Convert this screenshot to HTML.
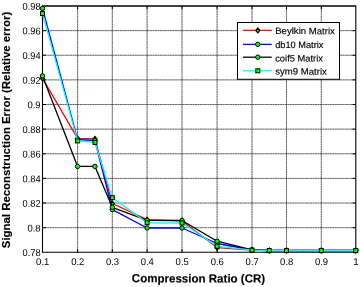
<!DOCTYPE html>
<html><head><meta charset="utf-8"><title>Plot</title><style>html,body{margin:0;padding:0;background:#fff}svg{display:block}</style></head><body>
<svg width="360" height="287" viewBox="0 0 360 287" font-family="Liberation Sans, sans-serif">
<rect width="360" height="287" fill="#fff"/>
<path d="M77.60 6.0V252.3M112.30 6.0V252.3M147.10 6.0V252.3M182.00 6.0V252.3M217.10 6.0V252.3M252.00 6.0V252.3M286.50 6.0V252.3M321.30 6.0V252.3M42.5 227.67H355.8M42.5 203.04H355.8M42.5 178.41H355.8M42.5 153.78H355.8M42.5 129.15H355.8M42.5 104.52H355.8M42.5 79.89H355.8M42.5 55.26H355.8M42.5 30.63H355.8" fill="none" stroke="#000" stroke-opacity="0.3" stroke-width="0.85"/>
<path d="M77.60 6.0V252.3M112.30 6.0V252.3M147.10 6.0V252.3M182.00 6.0V252.3M217.10 6.0V252.3M252.00 6.0V252.3M286.50 6.0V252.3M321.30 6.0V252.3M42.5 227.67H355.8M42.5 203.04H355.8M42.5 178.41H355.8M42.5 153.78H355.8M42.5 129.15H355.8M42.5 104.52H355.8M42.5 79.89H355.8M42.5 55.26H355.8M42.5 30.63H355.8" fill="none" stroke="#000" stroke-opacity="0.55" stroke-width="0.85" stroke-dasharray="1.9 0.6"/>
<path d="M42.5 6.0H355.8" fill="none" stroke="#000" stroke-width="1.4"/>
<path d="M42.5 5.4V252.8M355.8 5.4V252.8M42.5 252.3H355.8" fill="none" stroke="#000" stroke-width="1.1"/>
<path d="M77.60 252.3v-3.3M77.60 6.0v3.3M112.30 252.3v-3.3M112.30 6.0v3.3M147.10 252.3v-3.3M147.10 6.0v3.3M182.00 252.3v-3.3M182.00 6.0v3.3M217.10 252.3v-3.3M217.10 6.0v3.3M252.00 252.3v-3.3M252.00 6.0v3.3M286.50 252.3v-3.3M286.50 6.0v3.3M321.30 252.3v-3.3M321.30 6.0v3.3M42.5 227.67h3.3M355.8 227.67h-3.3M42.5 203.04h3.3M355.8 203.04h-3.3M42.5 178.41h3.3M355.8 178.41h-3.3M42.5 153.78h3.3M355.8 153.78h-3.3M42.5 129.15h3.3M355.8 129.15h-3.3M42.5 104.52h3.3M355.8 104.52h-3.3M42.5 79.89h3.3M355.8 79.89h-3.3M42.5 55.26h3.3M355.8 55.26h-3.3M42.5 30.63h3.3M355.8 30.63h-3.3" fill="none" stroke="#000" stroke-width="1"/>
<text transform="translate(42.70 265.1) rotate(0.05)" font-size="9.8" text-anchor="middle" textLength="13.2" lengthAdjust="spacingAndGlyphs" fill="#000">0.1</text>
<text transform="translate(77.80 265.1) rotate(0.05)" font-size="9.8" text-anchor="middle" textLength="13.2" lengthAdjust="spacingAndGlyphs" fill="#000">0.2</text>
<text transform="translate(112.50 265.1) rotate(0.05)" font-size="9.8" text-anchor="middle" textLength="13.2" lengthAdjust="spacingAndGlyphs" fill="#000">0.3</text>
<text transform="translate(147.30 265.1) rotate(0.05)" font-size="9.8" text-anchor="middle" textLength="13.2" lengthAdjust="spacingAndGlyphs" fill="#000">0.4</text>
<text transform="translate(182.20 265.1) rotate(0.05)" font-size="9.8" text-anchor="middle" textLength="13.2" lengthAdjust="spacingAndGlyphs" fill="#000">0.5</text>
<text transform="translate(217.30 265.1) rotate(0.05)" font-size="9.8" text-anchor="middle" textLength="13.2" lengthAdjust="spacingAndGlyphs" fill="#000">0.6</text>
<text transform="translate(252.20 265.1) rotate(0.05)" font-size="9.8" text-anchor="middle" textLength="13.2" lengthAdjust="spacingAndGlyphs" fill="#000">0.7</text>
<text transform="translate(286.70 265.1) rotate(0.05)" font-size="9.8" text-anchor="middle" textLength="13.2" lengthAdjust="spacingAndGlyphs" fill="#000">0.8</text>
<text transform="translate(321.50 265.1) rotate(0.05)" font-size="9.8" text-anchor="middle" textLength="13.2" lengthAdjust="spacingAndGlyphs" fill="#000">0.9</text>
<text transform="translate(356.00 265.1) rotate(0.05)" font-size="9.8" text-anchor="middle" fill="#000">1</text>
<text transform="translate(40.6 256.05) rotate(0.05)" font-size="9.8" text-anchor="end" textLength="18.0" lengthAdjust="spacingAndGlyphs" fill="#000">0.78</text>
<text transform="translate(40.6 231.42) rotate(0.05)" font-size="9.8" text-anchor="end" textLength="13.2" lengthAdjust="spacingAndGlyphs" fill="#000">0.8</text>
<text transform="translate(40.6 206.79) rotate(0.05)" font-size="9.8" text-anchor="end" textLength="18.0" lengthAdjust="spacingAndGlyphs" fill="#000">0.82</text>
<text transform="translate(40.6 182.16) rotate(0.05)" font-size="9.8" text-anchor="end" textLength="18.0" lengthAdjust="spacingAndGlyphs" fill="#000">0.84</text>
<text transform="translate(40.6 157.53) rotate(0.05)" font-size="9.8" text-anchor="end" textLength="18.0" lengthAdjust="spacingAndGlyphs" fill="#000">0.86</text>
<text transform="translate(40.6 132.90) rotate(0.05)" font-size="9.8" text-anchor="end" textLength="18.0" lengthAdjust="spacingAndGlyphs" fill="#000">0.88</text>
<text transform="translate(40.6 108.27) rotate(0.05)" font-size="9.8" text-anchor="end" textLength="13.2" lengthAdjust="spacingAndGlyphs" fill="#000">0.9</text>
<text transform="translate(40.6 83.64) rotate(0.05)" font-size="9.8" text-anchor="end" textLength="18.0" lengthAdjust="spacingAndGlyphs" fill="#000">0.92</text>
<text transform="translate(40.6 59.01) rotate(0.05)" font-size="9.8" text-anchor="end" textLength="18.0" lengthAdjust="spacingAndGlyphs" fill="#000">0.94</text>
<text transform="translate(40.6 34.38) rotate(0.05)" font-size="9.8" text-anchor="end" textLength="18.0" lengthAdjust="spacingAndGlyphs" fill="#000">0.96</text>
<text transform="translate(40.6 9.75) rotate(0.05)" font-size="9.8" text-anchor="end" textLength="18.0" lengthAdjust="spacingAndGlyphs" fill="#000">0.98</text>
<polyline points="42.50,78.40 77.60,138.50 94.95,138.90 112.30,203.50 147.10,219.70 182.00,220.90 217.10,247.60 252.00,250.20 269.25,250.60 286.50,250.60 321.30,250.60 355.80,250.60" fill="none" stroke="#ff0000" stroke-width="1.3" stroke-linejoin="round"/>
<path d="M42.50 76.00L44.50 78.40L42.50 80.80L40.50 78.40Z" fill="#00ff00" stroke="#000" stroke-width="1.2"/>
<path d="M77.60 136.10L79.60 138.50L77.60 140.90L75.60 138.50Z" fill="#00ff00" stroke="#000" stroke-width="1.2"/>
<path d="M94.95 136.50L96.95 138.90L94.95 141.30L92.95 138.90Z" fill="#00ff00" stroke="#000" stroke-width="1.2"/>
<path d="M112.30 201.10L114.30 203.50L112.30 205.90L110.30 203.50Z" fill="#00ff00" stroke="#000" stroke-width="1.2"/>
<path d="M147.10 217.30L149.10 219.70L147.10 222.10L145.10 219.70Z" fill="#00ff00" stroke="#000" stroke-width="1.2"/>
<path d="M182.00 218.50L184.00 220.90L182.00 223.30L180.00 220.90Z" fill="#00ff00" stroke="#000" stroke-width="1.2"/>
<path d="M217.10 245.20L219.10 247.60L217.10 250.00L215.10 247.60Z" fill="#00ff00" stroke="#000" stroke-width="1.2"/>
<path d="M252.00 247.80L254.00 250.20L252.00 252.60L250.00 250.20Z" fill="#00ff00" stroke="#000" stroke-width="1.2"/>
<path d="M269.25 248.20L271.25 250.60L269.25 253.00L267.25 250.60Z" fill="#00ff00" stroke="#000" stroke-width="1.2"/>
<path d="M286.50 248.20L288.50 250.60L286.50 253.00L284.50 250.60Z" fill="#00ff00" stroke="#000" stroke-width="1.2"/>
<path d="M321.30 248.20L323.30 250.60L321.30 253.00L319.30 250.60Z" fill="#00ff00" stroke="#000" stroke-width="1.2"/>
<path d="M355.80 248.20L357.80 250.60L355.80 253.00L353.80 250.60Z" fill="#00ff00" stroke="#000" stroke-width="1.2"/>
<polyline points="42.50,8.40 77.60,139.70 94.95,140.50 112.30,209.60 147.10,228.00 182.00,228.00 217.10,243.50 252.00,250.00 269.25,250.50 286.50,250.50 321.30,250.50 355.80,250.50" fill="none" stroke="#0000ff" stroke-width="1.3" stroke-linejoin="round"/>
<circle cx="42.50" cy="8.40" r="2.2" fill="#00ff00" stroke="#000" stroke-width="1"/>
<circle cx="77.60" cy="139.70" r="2.2" fill="#00ff00" stroke="#000" stroke-width="1"/>
<circle cx="94.95" cy="140.50" r="2.2" fill="#00ff00" stroke="#000" stroke-width="1"/>
<circle cx="112.30" cy="209.60" r="2.2" fill="#00ff00" stroke="#000" stroke-width="1"/>
<circle cx="147.10" cy="228.00" r="2.2" fill="#00ff00" stroke="#000" stroke-width="1"/>
<circle cx="182.00" cy="228.00" r="2.2" fill="#00ff00" stroke="#000" stroke-width="1"/>
<circle cx="217.10" cy="243.50" r="2.2" fill="#00ff00" stroke="#000" stroke-width="1"/>
<circle cx="252.00" cy="250.00" r="2.2" fill="#00ff00" stroke="#000" stroke-width="1"/>
<circle cx="269.25" cy="250.50" r="2.2" fill="#00ff00" stroke="#000" stroke-width="1"/>
<circle cx="286.50" cy="250.50" r="2.2" fill="#00ff00" stroke="#000" stroke-width="1"/>
<circle cx="321.30" cy="250.50" r="2.2" fill="#00ff00" stroke="#000" stroke-width="1"/>
<circle cx="355.80" cy="250.50" r="2.2" fill="#00ff00" stroke="#000" stroke-width="1"/>
<polyline points="42.50,75.90 77.60,166.40 94.95,166.40 112.30,207.30 147.10,220.30 182.00,220.50 217.10,241.20 252.00,249.80 269.25,250.50 286.50,250.50 321.30,250.50 355.80,250.50" fill="none" stroke="#000000" stroke-width="1.3" stroke-linejoin="round"/>
<circle cx="42.50" cy="75.90" r="2.2" fill="#00ff00" stroke="#000" stroke-width="1"/>
<circle cx="77.60" cy="166.40" r="2.2" fill="#00ff00" stroke="#000" stroke-width="1"/>
<circle cx="94.95" cy="166.40" r="2.2" fill="#00ff00" stroke="#000" stroke-width="1"/>
<circle cx="112.30" cy="207.30" r="2.2" fill="#00ff00" stroke="#000" stroke-width="1"/>
<circle cx="147.10" cy="220.30" r="2.2" fill="#00ff00" stroke="#000" stroke-width="1"/>
<circle cx="182.00" cy="220.50" r="2.2" fill="#00ff00" stroke="#000" stroke-width="1"/>
<circle cx="217.10" cy="241.20" r="2.2" fill="#00ff00" stroke="#000" stroke-width="1"/>
<circle cx="252.00" cy="249.80" r="2.2" fill="#00ff00" stroke="#000" stroke-width="1"/>
<circle cx="269.25" cy="250.50" r="2.2" fill="#00ff00" stroke="#000" stroke-width="1"/>
<circle cx="286.50" cy="250.50" r="2.2" fill="#00ff00" stroke="#000" stroke-width="1"/>
<circle cx="321.30" cy="250.50" r="2.2" fill="#00ff00" stroke="#000" stroke-width="1"/>
<circle cx="355.80" cy="250.50" r="2.2" fill="#00ff00" stroke="#000" stroke-width="1"/>
<polyline points="42.50,13.60 77.60,140.90 94.95,142.40 112.30,197.70 147.10,222.80 182.00,223.00 217.10,246.30 252.00,250.20 269.25,250.60 286.50,250.60 321.30,250.60 355.80,250.60" fill="none" stroke="#00ffff" stroke-width="1.3" stroke-linejoin="round"/>
<rect x="40.50" y="11.60" width="4.0" height="4.0" fill="#00ff00" stroke="#000" stroke-width="1"/>
<rect x="75.60" y="138.90" width="4.0" height="4.0" fill="#00ff00" stroke="#000" stroke-width="1"/>
<rect x="92.95" y="140.40" width="4.0" height="4.0" fill="#00ff00" stroke="#000" stroke-width="1"/>
<rect x="110.30" y="195.70" width="4.0" height="4.0" fill="#00ff00" stroke="#000" stroke-width="1"/>
<rect x="145.10" y="220.80" width="4.0" height="4.0" fill="#00ff00" stroke="#000" stroke-width="1"/>
<rect x="180.00" y="221.00" width="4.0" height="4.0" fill="#00ff00" stroke="#000" stroke-width="1"/>
<rect x="215.10" y="244.30" width="4.0" height="4.0" fill="#00ff00" stroke="#000" stroke-width="1"/>
<rect x="250.00" y="248.20" width="4.0" height="4.0" fill="#00ff00" stroke="#000" stroke-width="1"/>
<rect x="267.25" y="248.60" width="4.0" height="4.0" fill="#00ff00" stroke="#000" stroke-width="1"/>
<rect x="284.50" y="248.60" width="4.0" height="4.0" fill="#00ff00" stroke="#000" stroke-width="1"/>
<rect x="319.30" y="248.60" width="4.0" height="4.0" fill="#00ff00" stroke="#000" stroke-width="1"/>
<rect x="353.80" y="248.60" width="4.0" height="4.0" fill="#00ff00" stroke="#000" stroke-width="1"/>
<rect x="237.5" y="22.5" width="102" height="56.8" fill="#fff" stroke="#000" stroke-width="1"/>
<path d="M243 30.4H271.7" stroke="#ff0000" stroke-width="1.3"/>
<path d="M257.80 28.00L259.80 30.40L257.80 32.80L255.80 30.40Z" fill="#00ff00" stroke="#000" stroke-width="1.2"/>
<text transform="translate(275.2 34.1) rotate(0.05)" font-size="9.25" textLength="59.7" lengthAdjust="spacingAndGlyphs" fill="#000" stroke="#000" stroke-width="0.15">Beylkin Matrix</text>
<path d="M243 44.4H271.7" stroke="#0000ff" stroke-width="1.3"/>
<circle cx="257.80" cy="44.40" r="2.2" fill="#00ff00" stroke="#000" stroke-width="1"/>
<text transform="translate(275.2 48.0) rotate(0.05)" font-size="9.25" textLength="48.2" lengthAdjust="spacingAndGlyphs" fill="#000" stroke="#000" stroke-width="0.15">db10 Matrix</text>
<path d="M243 57.2H271.7" stroke="#000000" stroke-width="1.3"/>
<circle cx="257.80" cy="57.20" r="2.2" fill="#00ff00" stroke="#000" stroke-width="1"/>
<text transform="translate(275.2 61.5) rotate(0.05)" font-size="9.25" textLength="47.7" lengthAdjust="spacingAndGlyphs" fill="#000" stroke="#000" stroke-width="0.15">coif5 Matrix</text>
<path d="M243 70.8H271.7" stroke="#00ffff" stroke-width="1.3"/>
<rect x="255.80" y="68.80" width="4.0" height="4.0" fill="#00ff00" stroke="#000" stroke-width="1"/>
<text transform="translate(275.2 74.6) rotate(0.05)" font-size="9.25" textLength="51.6" lengthAdjust="spacingAndGlyphs" fill="#000" stroke="#000" stroke-width="0.15">sym9 Matrix</text>
<text transform="translate(198.5 282.4) rotate(0.03)" font-size="11.8" font-weight="bold" text-anchor="middle" textLength="133.4" lengthAdjust="spacingAndGlyphs" fill="#000" stroke="#000" stroke-width="0.15">Compression Ratio (CR)</text>
<text transform="translate(10.2 130) rotate(-90)" font-size="11.5" font-weight="bold" text-anchor="middle" textLength="236.4" lengthAdjust="spacingAndGlyphs" fill="#000" stroke="#000" stroke-width="0.15">Signal Reconstruction Error (Relative error)</text>
</svg>
</body></html>
